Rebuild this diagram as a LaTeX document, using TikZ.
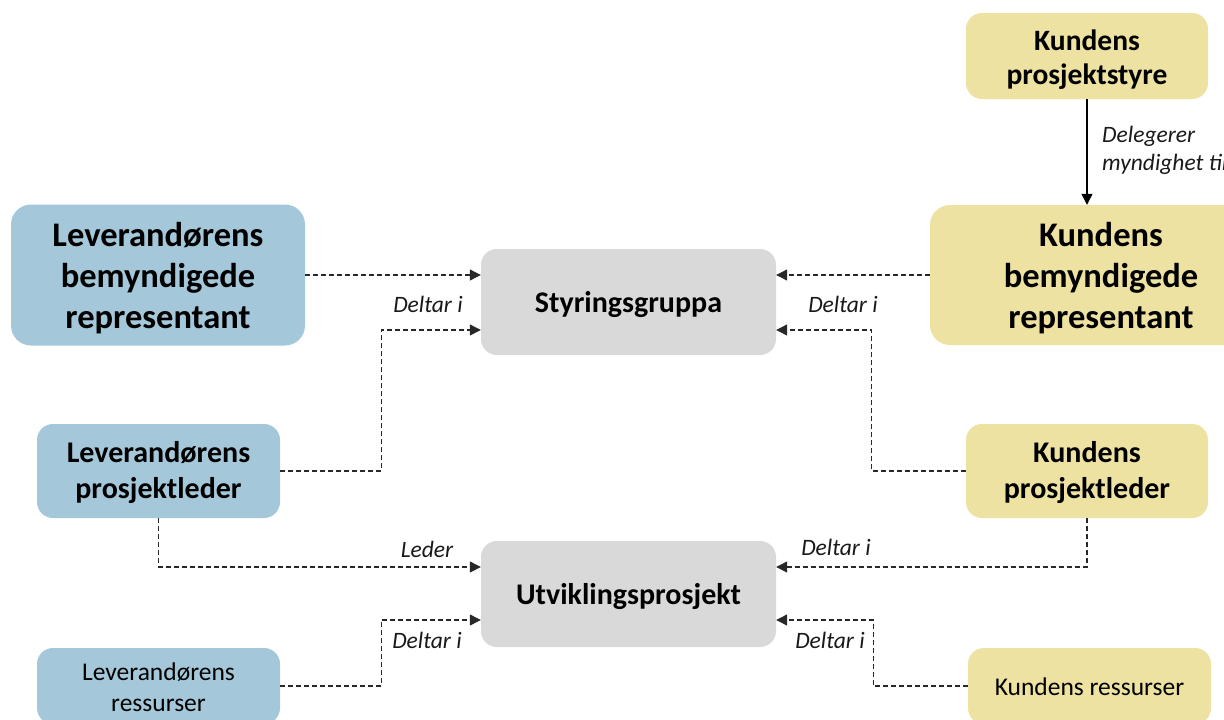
\documentclass[tikz,border=0pt]{standalone}
\usepackage{fontspec}
\setmainfont{Carlito}
\usetikzlibrary{arrows.meta}
\definecolor{cblue}{RGB}{164,200,217}
\definecolor{cyellow}{RGB}{237,226,162}
\definecolor{cgrey}{RGB}{217,217,217}
\definecolor{cline}{RGB}{40,40,40}
\tikzset{
  box/.style={rectangle, rounded corners=20pt, inner sep=0pt},
  sbox/.style={box, rounded corners=16pt},
  txt/.style={inner sep=0pt, align=center, text=black},
  bigtxt/.style={txt, font=\fontsize{34.5}{41}\selectfont\bfseries},
  midtxt/.style={txt, font=\fontsize{30}{36}\selectfont\bfseries},
  smalltxt/.style={txt, font=\fontsize{25.5}{31}\selectfont},
  conn/.style={draw=cline, line width=1.2pt, dash pattern=on 5pt off 3pt, -{Triangle[length=11pt,width=11pt]}},
  solidconn/.style={draw=black, line width=1.2pt, -{Triangle[length=11pt,width=11pt]}},
  lbl/.style={font=\fontsize{23.5}{28}\selectfont\itshape, inner sep=0pt, text=black!90}
}
\begin{document}
\begin{tikzpicture}[x=1pt,y=-1pt]
\clip (0,0) rectangle (1224,720);
\fill[white] (0,0) rectangle (1224,720);

% boxes
\node[sbox, fill=cyellow, minimum width=242pt, minimum height=86pt] (kps) at (1087,56) {};
\node[box, fill=cyellow, minimum width=342pt, minimum height=140pt] (kbr) at (1101,275) {};
\node[box, fill=cblue, minimum width=294pt, minimum height=141pt] (lbr) at (158,275) {};
\node[sbox, fill=cgrey, minimum width=295pt, minimum height=106pt] (sty) at (628.5,302) {};
\node[sbox, fill=cgrey, minimum width=295pt, minimum height=106pt] (utv) at (628.5,594) {};
\node[sbox, fill=cblue, minimum width=243pt, minimum height=94pt] (lpl) at (158.5,471) {};
\node[sbox, fill=cyellow, minimum width=242pt, minimum height=94pt] (kpl) at (1087,471) {};
\node[sbox, fill=cblue, minimum width=243pt, minimum height=76pt] (lres) at (158.5,686) {};
\node[sbox, fill=cyellow, minimum width=243pt, minimum height=76pt] (kres) at (1089.5,686) {};

% box texts
\node[midtxt, font=\fontsize{29.5}{34}\selectfont\bfseries] (kpsT) at ([yshift=-4pt]kps.center) {Kundens\\prosjektstyre};
\node[bigtxt] (kbrT) at ([yshift=-3pt]kbr.center) {Kundens\\bemyndigede\\representant};
\node[bigtxt] (lbrT) at ([yshift=-3pt]lbr.center) {Leverandørens\\bemyndigede\\representant};
\node[midtxt] (styT) at ([yshift=-3pt]sty.center) {Styringsgruppa};
\node[midtxt] (utvT) at ([yshift=-3pt]utv.center) {Utviklingsprosjekt};
\node[midtxt] (lplT) at ([yshift=-2pt]lpl.center) {Leverandørens\\prosjektleder};
\node[midtxt] (kplT) at ([yshift=-2pt]kpl.center) {Kundens\\prosjektleder};
\node[smalltxt] (lresT) at ([yshift=-1pt]lres.center) {Leverandørens\\ressurser};
\node[smalltxt] (kresT) at ([yshift=-1pt]kres.center) {Kundens ressurser};

% connectors
\draw[solidconn] (kps.south) -- (kbr.north -| kps.south);
\draw[conn] (lbr.east) -- (sty.west |- lbr.east);
\draw[conn] (lpl.east) -- ++(101,0) |- ([yshift=-28pt]sty.west);
\draw[conn] (kbr.west) -- (sty.east |- kbr.west);
\draw[conn] (kpl.west) -- ++(-94,0) |- ([yshift=-28pt]sty.east);
\draw[conn] (lpl.south) |- ([yshift=27pt]utv.west);
\draw[conn] (lres.east) -- ++(101,0) |- ([yshift=-26pt]utv.west);
\draw[conn] (kpl.south) |- ([yshift=27pt]utv.east);
\draw[conn] (kres.west) -- ++(-94.5,0) |- ([yshift=-26pt]utv.east);

% labels
\node[lbl] (l1) at (428,304) {Deltar i};
\node[lbl] (l2) at (843,304) {Deltar i};
\node[lbl] (l3) at (427,549) {Leder};
\node[lbl] (l4) at (836,547) {Deltar i};
\node[lbl] (l5) at (427,640) {Deltar i};
\node[lbl] (l6) at (830,640) {Deltar i};
\node[lbl, anchor=north west, align=left] (l7) at (1102,126) {Delegerer\\myndighet til};
\end{tikzpicture}
\end{document}
